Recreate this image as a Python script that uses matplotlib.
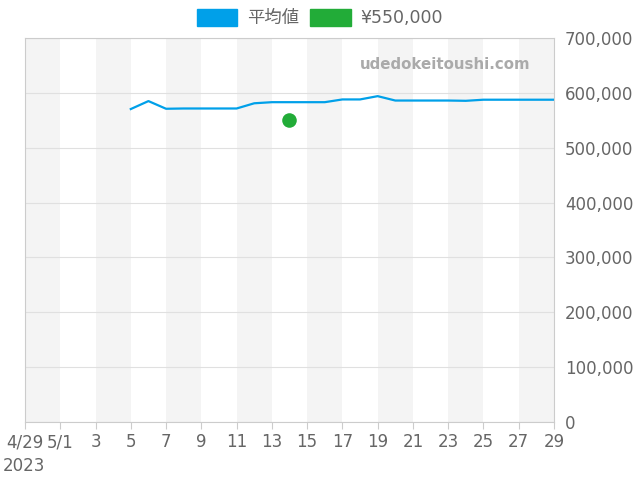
import matplotlib
matplotlib.use("Agg")
import matplotlib.pyplot as plt
from matplotlib.patches import Patch
import pandas as pd

plt.rcParams['font.family'] = ['DejaVu Sans', 'Noto Sans CJK JP']

# data
avg_dates = pd.date_range("2023-05-05", "2023-05-29", freq="D")
avg_prices = [570500, 585000, 571000, 571500, 571500, 571500, 571500,
              581000, 583000, 583000, 583000, 583000, 588000, 588000,
              594000, 586000, 586000, 586000, 586000, 585500, 587500,
              587500, 587500, 587500, 587500]
point_date = pd.Timestamp("2023-05-14")
point_price = 550000

x_start = pd.Timestamp("2023-04-29")
x_end = pd.Timestamp("2023-05-29")
tick_dates = pd.date_range(x_start, x_end, freq="2D")
tick_labels = ["4/29", "5/1"] + [str(d.day) for d in tick_dates[2:]]
y_ticks = list(range(0, 700001, 100000))

blue = "#00a0e9"
green = "#22ac38"
text_gray = "#666666"

fig = plt.figure(figsize=(6.4, 4.8), dpi=100)
ax = fig.add_axes([25 / 640, 58 / 480, 529 / 640, 384 / 480])

# alternating shaded bands
for i in range(0, len(tick_dates) - 1, 2):
    ax.axvspan(tick_dates[i], tick_dates[i + 1], color="#f4f4f4", lw=0, zorder=0)

ax.plot(avg_dates, avg_prices, color=blue, lw=1.6, zorder=3)
ax.scatter([point_date], [point_price], s=110, color=green, zorder=4, lw=0)

ax.set_xlim(x_start, x_end)
ax.set_ylim(0, 700000)
ax.set_xticks(tick_dates)
ax.set_xticklabels(tick_labels)
ax.set_yticks(y_ticks)
ax.set_yticklabels([f"{v:,}" for v in y_ticks])
ax.yaxis.tick_right()
ax.grid(axis="y", color="#e0e0e0", lw=0.8)
ax.set_axisbelow(True)
ax.tick_params(axis="y", length=0, pad=8, labelsize=12, labelcolor=text_gray)
ax.tick_params(axis="x", length=5, color="#cccccc", pad=3, labelsize=12,
               labelcolor=text_gray)
for s in ax.spines.values():
    s.set_color("#cccccc")

fig.text(3 / 640, 1 - 466 / 480, "2023", fontsize=12, color=text_gray,
         ha="left", va="center")
ax.text(0.955, 0.93, "udedokeitoushi.com", transform=ax.transAxes,
        ha="right", va="center", fontsize=10.8, fontweight="bold",
        color="#aaaaaa")

handles = [Patch(color=blue, label="平均値"), Patch(color=green, label="¥550,000")]
fig.legend(handles=handles, loc="center", bbox_to_anchor=(0.5, 1 - 18 / 480),
           ncol=2, frameon=False, fontsize=12.5, handlelength=2.35,
           handleheight=1.1, handletextpad=0.55, columnspacing=0.65,
           labelcolor=text_gray)

fig.savefig("out.png", dpi=100)
